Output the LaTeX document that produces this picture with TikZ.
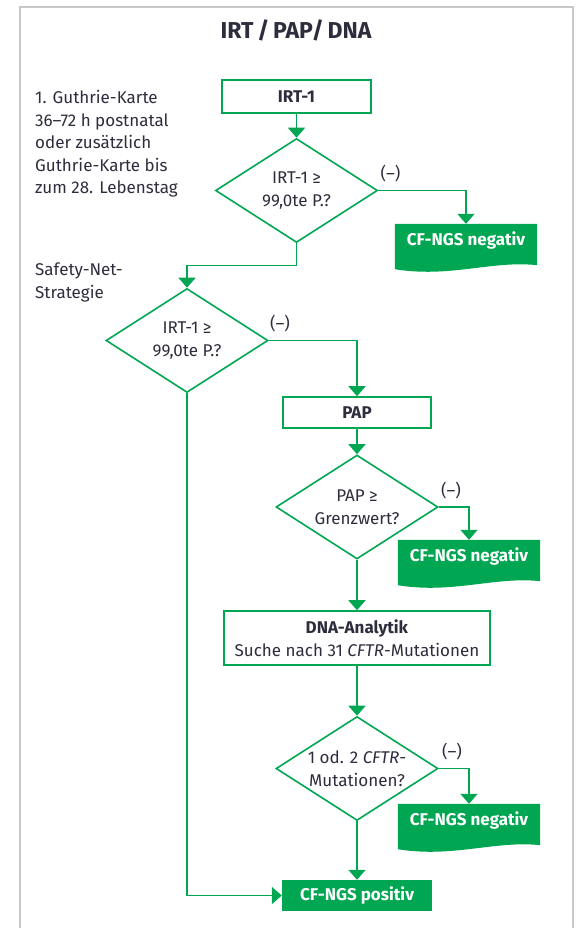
\documentclass[tikz,border=0pt]{standalone}
\usepackage{fontspec}
\setmainfont{Fira Sans}
\usetikzlibrary{shapes.geometric,arrows.meta,calc,backgrounds}
\definecolor{cfgreen}{RGB}{0,166,81}
\definecolor{txt}{RGB}{45,45,62}
\definecolor{framegray}{RGB}{200,200,200}
\begin{document}
\begin{tikzpicture}[x=1pt,y=-1pt,
  font=\fontsize{17}{22.5}\selectfont,
  box/.style={draw=cfgreen, line width=1.6pt, inner sep=0pt, text=txt, font=\fontsize{17}{22.5}\selectfont\bfseries},
  dia/.style={diamond, draw=cfgreen, line width=1.6pt, minimum width=162pt, minimum height=104pt, inner sep=0pt, aspect=1.56, align=center, text=txt},
  neg/.style={minimum width=142pt, minimum height=32pt, inner sep=0pt, text=white, font=\fontsize{17}{22.5}\selectfont\bfseries},
  posbox/.style={fill=cfgreen, minimum width=150pt, minimum height=31pt, inner sep=0pt, text=white, font=\fontsize{17}{22.5}\selectfont\bfseries},
  arr/.style={draw=cfgreen, line width=1.6pt, -{Triangle[length=10pt,width=17pt]}},
  lbl/.style={text=txt, inner sep=0pt, anchor=south west},
  side/.style={text=txt, inner sep=0pt, anchor=north west, align=left}
]
\useasboundingbox (0,0) rectangle (577,928);
\draw[framegray, line width=1.5pt] (20,930) -- (20,7) -- (573,7) -- (573,930);

\node[anchor=base, font=\fontsize{23}{28}\selectfont\bfseries, text=txt, inner sep=0pt] (title) at (296,38.5) {IRT\,/\,PAP/\,DNA};

\node[side] (guth) at (35,90.5) {1. Guthrie-Karte\\36–72 h postnatal\\oder zusätzlich\\Guthrie-Karte bis\\zum 28. Lebenstag};
\node[side] (safety) at (35,263) {Safety-Net-\\Strategie};

\node[box, minimum width=149pt, minimum height=33pt] (irt) at (296.5,96.5) {IRT-1};
\node[dia] (d1) at (296.5,190.5) {IRT-1 ≥\\99,0te P.?};
\node[neg] (n1) at (466,240) {CF-NGS negativ};
\node[dia] (d2) at (187,340.5) {IRT-1 ≥\\99,0te P.?};
\node[box, minimum width=148pt, minimum height=31pt] (pap) at (357,412.5) {PAP};
\node[dia] (d3) at (357,507) {PAP ≥\\Grenzwert?};
\node[neg] (n2) at (469,556) {CF-NGS negativ};
\node[box, minimum width=266pt, minimum height=54pt, align=center, font=\fontsize{17}{22.5}\selectfont] (dna) at (357,638) {\textbf{DNA-Analytik}\\Suche nach 31 \textit{CFTR}-Mutationen};
\node[dia] (d4) at (357,768.5) {1 od. 2 \textit{CFTR}-\\Mutationen?};
\node[neg] (n3) at (469,820) {CF-NGS negativ};
\node[posbox] (pos) at (357,895.5) {CF-NGS positiv};

\node[lbl] (m1) at ($(d1.east)+(2,-8)$) {(–)};
\node[lbl] (m2) at ($(d2.east)+(1,-8)$) {(–)};
\node[lbl] (m3) at ($(d3.east)+(2,-8)$) {(–)};
\node[lbl] (m4) at ($(d4.east)+(3,-8)$) {(–)};

\begin{scope}[on background layer]
\foreach \n in {n1,n2,n3}
  \fill[cfgreen] (\n.north west) -- (\n.north east) -- ($(\n.south east)+(0,9)$)
    .. controls ($(\n.south east)+(-45,4)$) and ($(\n.south west)+(55,22)$) .. ($(\n.south west)+(0,13)$) -- cycle;
\end{scope}

\draw[arr] (irt.south) -- (d1.north);
\draw[arr] (d1.east) -| (n1.north);
\draw[arr] (d1.south) -- ++(0,22) -| (d2.north);
\draw[arr] (d2.east) -| (pap.north);
\draw[arr] (pap.south) -- (d3.north);
\draw[arr] (d3.east) -| (n2.north);
\draw[arr] (d3.south) -- (dna.north);
\draw[arr] (dna.south) -- (d4.north);
\draw[arr] (d4.east) -| (n3.north);
\draw[arr] (d4.south) -- (pos.north);
\draw[arr] (d2.south) |- (pos.west);
\end{tikzpicture}
\end{document}
